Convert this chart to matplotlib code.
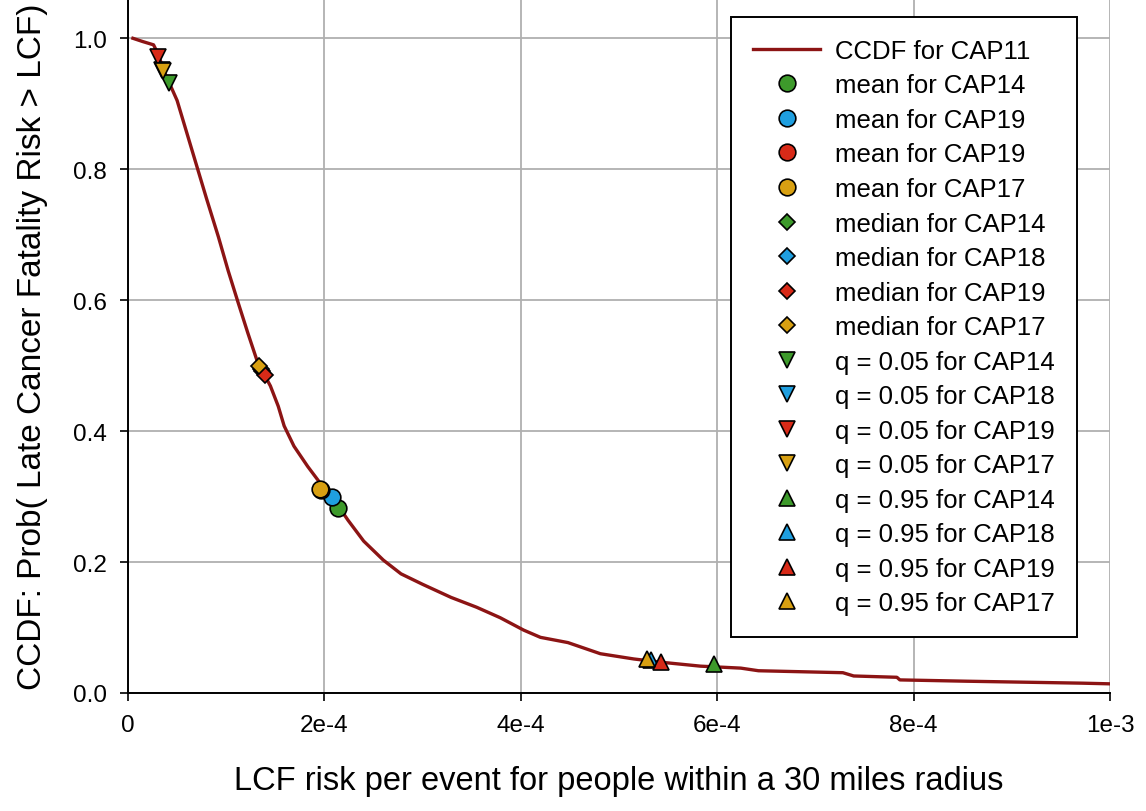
"""
CCDF of late cancer fatality risk with summary markers for other CAPs.
Writes out.png (1146x812).
"""

import matplotlib
matplotlib.use("Agg")
import matplotlib.pyplot as plt

# ---------------------------------------------------------------------------
# Data (x in units of 1e-4)
# ---------------------------------------------------------------------------

ccdf_x = [0.05, 0.15, 0.26, 0.31, 0.36, 0.42, 0.50, 0.60, 0.71, 0.80, 0.92,
          1.02, 1.12, 1.22, 1.32, 1.40, 1.45, 1.53, 1.59, 1.69, 1.83, 1.96,
          2.08, 2.14, 2.24, 2.40, 2.60, 2.78, 3.00, 3.29, 3.55, 3.79, 4.03,
          4.20, 4.48, 4.81, 5.15, 5.43, 5.83, 6.24, 6.42, 7.28, 7.39, 7.83,
          7.86, 8.54, 9.72, 10.0]
ccdf_y = [1.000, 0.995, 0.990, 0.975, 0.952, 0.932, 0.905, 0.855, 0.800,
          0.755, 0.697, 0.645, 0.597, 0.550, 0.505, 0.483, 0.469, 0.438,
          0.408, 0.377, 0.346, 0.320, 0.300, 0.286, 0.264, 0.232, 0.203,
          0.182, 0.166, 0.146, 0.131, 0.115, 0.096, 0.085, 0.077, 0.060,
          0.052, 0.047, 0.041, 0.038, 0.034, 0.031, 0.026, 0.024, 0.020,
          0.018, 0.015, 0.014]

caps = ["CAP14", "CAP18", "CAP19", "CAP17"]
mean_labels = ["CAP14", "CAP19", "CAP19", "CAP17"]
mean_x = [2.14, 2.08, 1.97, 1.96]
mean_y = [0.283, 0.299, 0.310, 0.311]
median_x = [1.36, 1.35, 1.40, 1.33]
median_y = [0.492, 0.495, 0.485, 0.499]
q05_x = [0.42, 0.35, 0.31, 0.36]
q05_y = [0.932, 0.952, 0.972, 0.950]
q95_x = [5.97, 5.33, 5.43, 5.29]
q95_y = [0.045, 0.051, 0.048, 0.052]

xticks = [0, 2, 4, 6, 8, 10]
xtick_labels = ["0", "2e-4", "4e-4", "6e-4", "8e-4", "1e-3"]
yticks = [0.0, 0.2, 0.4, 0.6, 0.8, 1.0]

# ---------------------------------------------------------------------------
# Style
# ---------------------------------------------------------------------------

plt.rcParams.update({
    "font.family": ["Liberation Sans", "DejaVu Sans"],
    "font.size": 17,
})

CURVE = "#8c1414"
COLORS = ["#3d9a2b", "#1f9fe0", "#d82a18", "#d8a012"]
MKW = dict(markeredgecolor="black", markeredgewidth=1.2, linestyle="none")

fig = plt.figure(figsize=(11.46, 8.12), dpi=100)
ax = fig.add_axes([128 / 1146, 1 - 694 / 812, (1110 - 128) / 1146, 694 / 812])

ax.plot(ccdf_x, ccdf_y, color=CURVE, lw=2.4, label="CCDF for CAP11", zorder=3)

for i in range(4):
    ax.plot(mean_x[i], mean_y[i], marker="o", ms=12, color=COLORS[i],
            label=f"mean for {mean_labels[i]}", zorder=4, **MKW)
for i in range(4):
    ax.plot(median_x[i], median_y[i], marker="D", ms=8.5, color=COLORS[i],
            label=f"median for {caps[i]}", zorder=4, **MKW)
for i in range(4):
    ax.plot(q05_x[i], q05_y[i], marker="v", ms=12, color=COLORS[i],
            label=f"q = 0.05 for {caps[i]}", zorder=4, **MKW)
for i in range(4):
    ax.plot(q95_x[i], q95_y[i], marker="^", ms=12, color=COLORS[i],
            label=f"q = 0.95 for {caps[i]}", zorder=4, **MKW)

ax.set_xlim(0, 10)
ax.set_ylim(0, 1.06)
ax.set_xticks(xticks)
ax.set_xticklabels(xtick_labels)
ax.set_yticks(yticks)
ax.set_yticklabels([f"{v:.1f}" for v in yticks])
ax.tick_params(direction="out", length=6, width=1.2, labelsize=17.5, pad=9)
ax.grid(True, color="#b0b0b0", lw=1.3)
ax.set_axisbelow(True)
for s in ["top", "right"]:
    ax.spines[s].set_visible(False)
for s in ["left", "bottom"]:
    ax.spines[s].set_linewidth(1.4)

ax.set_xlabel("LCF risk per event for people within a 30 miles radius",
              fontsize=23.5, labelpad=21)
ax.set_ylabel("CCDF: Prob( Late Cancer Fatality Risk > LCF)",
              fontsize=24, labelpad=18)

leg = ax.legend(loc="upper right", bbox_to_anchor=(1077 / 1146, 1 - 18 / 812),
                bbox_transform=fig.transFigure, borderaxespad=0,
                fontsize=18.5, handlelength=2.6, handletextpad=0.6,
                labelspacing=0.41, borderpad=0.85, fancybox=False,
                framealpha=1, edgecolor="black")
leg.get_frame().set_linewidth(1.4)

fig.savefig("out.png", dpi=100)
